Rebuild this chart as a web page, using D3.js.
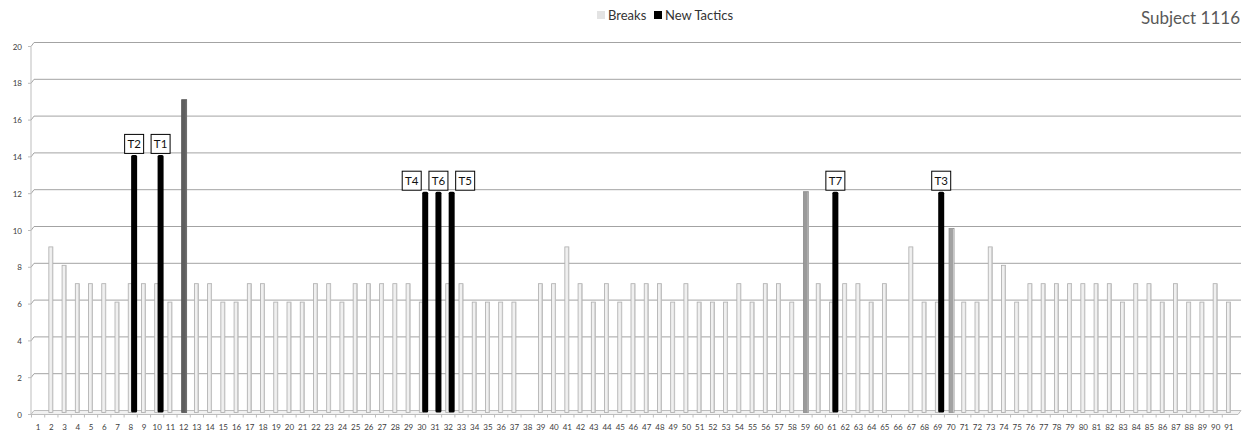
<!DOCTYPE html>
<html>
<head>
<meta charset="utf-8">
<script src="https://cdn.jsdelivr.net/npm/d3@7"></script>
<style>
  body { margin: 0; background: #fff; }
  svg { display: block; font-family: Lato, "Open Sans", sans-serif; }
</style>
</head>
<body>
<div id="chart"></div>
<script>
// sessions 1..91
const sessions = [1,2,3,4,5,6,7,8,9,10,11,12,13,14,15,16,17,18,19,20,21,22,23,24,25,26,27,28,29,30,
  31,32,33,34,35,36,37,38,39,40,41,42,43,44,45,46,47,48,49,50,51,52,53,54,55,56,57,58,59,60,
  61,62,63,64,65,66,67,68,69,70,71,72,73,74,75,76,77,78,79,80,81,82,83,84,85,86,87,88,89,90,91];

const breaks = [0,9,8,7,7,7,6,7,7,7, 6,17,7,7,6,6,7,7,6,6,
  6,7,7,6,7,7,7,7,7,6, 0,7,7,6,6,6,6,0,7,7,
  9,7,6,7,6,7,7,7,6,7, 6,6,6,7,6,7,7,6,12,7,
  6,7,7,6,7,0,9,6,6,10, 6,6,9,8,6,7,7,7,7,7,
  7,7,6,7,7,6,7,6,6,7, 6];

// sessions where a break bar was shaded differently
const markedSessions = [12, 59, 70];
const markedColors = ["#5e5e5e", "#9a9a9a", "#a2a2a2"];

const tacticSessions = [8, 10, 30, 31, 32, 61, 69];
const tacticValues = [14, 14, 12, 12, 12, 12, 12];
const tacticLabels = ["T2", "T1", "T4", "T6", "T5", "T7", "T3"];

const yTicks = [0, 2, 4, 6, 8, 10, 12, 14, 16, 18, 20];

const W = 1252, H = 435;
const depthX = 3;   // fake 3d wall offset

const svg = d3.select("#chart").append("svg")
    .attr("width", W)
    .attr("height", H);

const x = d3.scaleBand()
    .domain(sessions)
    .range([31.5, 1235.5])
    .padding(0);

// front plane of the axis, bars sit half way back
const yFront = d3.scaleLinear().domain([0, 20]).range([414.5, 46.5]);
const yBar = d3.scaleLinear().domain([0, 20]).range([412.5, 44.5]);
const yBack = d3.scaleLinear().domain([0, 20]).range([410.5, 42.5]);

const cx = (s) => x(s) + x.bandwidth() / 2;
const xLeft = 31, xRight = 1238;

// floor
svg.append("path")
    .attr("d", `M${xLeft},${yFront(0)} L${xLeft + depthX},${yBack(0)} L${xRight + depthX},${yBack(0)} L${xRight},${yFront(0)} Z`)
    .attr("fill", "#f1f1f1")
    .attr("stroke", "#bdbdbd")
    .attr("stroke-width", 1);

// gridlines on the back wall + slanted connectors to the axis
svg.append("g").selectAll("path.grid")
    .data(yTicks.filter((d) => d > 0))
    .enter()
    .append("path")
    .attr("class", "grid")
    .attr("d", (d) => `M${xLeft},${yFront(d)} L${xLeft + depthX},${yBack(d)} L${xRight + depthX},${yBack(d)}`)
    .attr("fill", "none")
    .attr("stroke", "#a3a3a3")
    .attr("stroke-width", 1);

// y axis (front)
svg.append("line")
    .attr("x1", xLeft).attr("x2", xLeft)
    .attr("y1", yFront(20)).attr("y2", yFront(0))
    .attr("stroke", "#bdbdbd");

svg.selectAll("line.ytick")
    .data(yTicks)
    .enter()
    .append("line")
    .attr("class", "ytick")
    .attr("x1", xLeft - 3).attr("x2", xLeft)
    .attr("y1", (d) => yFront(d)).attr("y2", (d) => yFront(d))
    .attr("stroke", "#bdbdbd");

svg.selectAll("text.ylab")
    .data(yTicks)
    .enter()
    .append("text")
    .attr("class", "ylab")
    .attr("x", 22)
    .attr("y", (d) => yFront(d) + 3)
    .attr("text-anchor", "end")
    .style("font-size", "8px")
    .style("fill", "#404040")
    .text((d) => d);

// x ticks and labels
svg.selectAll("line.xtick")
    .data(sessions)
    .enter()
    .append("line")
    .attr("class", "xtick")
    .attr("x1", (d) => x(d)).attr("x2", (d) => x(d))
    .attr("y1", yFront(0)).attr("y2", yFront(0) + 3)
    .attr("stroke", "#bdbdbd");

svg.selectAll("text.xlab")
    .data(sessions)
    .enter()
    .append("text")
    .attr("class", "xlab")
    .attr("x", (d) => cx(d))
    .attr("y", 430)
    .attr("text-anchor", "middle")
    .style("font-size", "8px")
    .style("fill", "#404040")
    .text((d) => d);

// break bars
const breakData = sessions.map((s, i) => {
    const m = markedSessions.indexOf(s);
    return { s: s, v: breaks[i], color: m >= 0 ? markedColors[m] : null };
}).filter((d) => d.v > 0);

const breakBars = svg.append("g").selectAll("g")
    .data(breakData)
    .enter()
    .append("g");

breakBars.append("rect")
    .attr("x", (d) => cx(d.s) - (d.color ? 2 : 2.5))
    .attr("y", (d) => yBar(d.v))
    .attr("width", (d) => (d.color ? 5 : 4))
    .attr("height", (d) => yBar(0) - yBar(d.v))
    .attr("fill", (d) => d.color || "#f0f0f0")
    .attr("stroke", (d) => (d.color ? d3.color(d.color).darker(0.3) : "#ababab"))
    .attr("stroke-width", 0.8);

// right-hand shade
breakBars.append("rect")
    .attr("x", (d) => cx(d.s) + (d.color ? 2 : 0.6))
    .attr("y", (d) => yBar(d.v) + 0.5)
    .attr("width", 1)
    .attr("height", (d) => yBar(0) - yBar(d.v) - 0.5)
    .attr("fill", (d) => (d.color ? d3.color(d.color).brighter(0.6) : "#c6c6c6"));

// new tactic bars
const tacticData = tacticSessions.map((s, i) => ({ s: s, v: tacticValues[i], label: tacticLabels[i] }));

svg.append("g").selectAll("rect")
    .data(tacticData)
    .enter()
    .append("rect")
    .attr("x", (d) => cx(d.s) + 0.4)
    .attr("y", (d) => yBar(d.v))
    .attr("width", 6)
    .attr("height", (d) => yBar(0) - yBar(d.v))
    .attr("rx", 1.5)
    .attr("fill", "#000");

// labels: nudge sideways when neighbours are tactics too
const labelShift = (s) => {
    const left = tacticSessions.includes(s - 1);
    const right = tacticSessions.includes(s + 1);
    if (right && !left) return -13.5;
    if (left && !right) return 13.5;
    return 0;
};

const labels = svg.append("g").selectAll("g")
    .data(tacticData)
    .enter()
    .append("g")
    .attr("transform", (d) => `translate(${cx(d.s) + 3.4 + labelShift(d.s)},${yBar(d.v) - 1.5})`);

labels.append("rect")
    .attr("x", -9.5)
    .attr("y", -19)
    .attr("width", 19)
    .attr("height", 19)
    .attr("fill", "#fff")
    .attr("stroke", "#000")
    .attr("stroke-width", 1);

labels.append("text")
    .attr("x", 0)
    .attr("y", -5)
    .attr("text-anchor", "middle")
    .style("font-size", "11.5px")
    .style("fill", "#111")
    .text((d) => d.label);

// legend
const legendItems = [
    { name: "Breaks", color: "#e3e3e3" },
    { name: "New Tactics", color: "#000" }
];
const legendX = [597, 654];
const legend = svg.append("g").selectAll("g")
    .data(legendItems)
    .enter()
    .append("g")
    .attr("transform", (d, i) => `translate(${legendX[i]},0)`);

legend.append("rect")
    .attr("x", 0).attr("y", 11)
    .attr("width", 8).attr("height", 8)
    .attr("fill", (d) => d.color);

legend.append("text")
    .attr("x", 11)
    .attr("y", 20)
    .style("font-size", "13px")
    .style("fill", "#333")
    .text((d) => d.name);

// title
svg.append("text")
    .attr("x", 1240)
    .attr("y", 24)
    .attr("text-anchor", "end")
    .style("font-size", "17px")
    .style("fill", "#595959")
    .text("Subject 1116");
</script>
</body>
</html>
